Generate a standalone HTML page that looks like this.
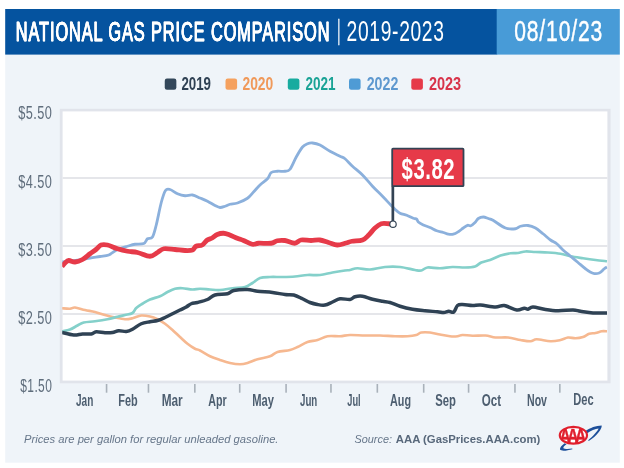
<!DOCTYPE html>
<html lang="en"><head><meta charset="utf-8"><title>National Gas Price Comparison</title>
<style>html,body{margin:0;padding:0;background:#fff;}body{width:624px;height:468px;overflow:hidden;}svg{display:block;}text{font-family:"Liberation Sans",Arial,Helvetica,sans-serif;}</style></head><body>
<svg width="624" height="468" viewBox="0 0 624 468">
<rect x="0" y="0" width="624" height="468" fill="#ffffff"/>
<rect x="5.2" y="9" width="614.6" height="453.7" fill="#eff4f9"/>
<rect x="5.2" y="9" width="492" height="45.6" fill="#05539f"/>
<rect x="496.7" y="9" width="123.1" height="45.6" fill="#489bd7"/>
<text x="15.8" y="41.1" font-size="28" fill="#ffffff" font-weight="normal" font-style="normal" text-anchor="start" textLength="314.6" lengthAdjust="spacingAndGlyphs" stroke="#ffffff" stroke-width="0.4" letter-spacing="1.6" style="text-shadow:0.4px 0 0 #fff,-0.4px 0 0 #fff">NATIONAL GAS PRICE COMPARISON</text>
<text x="337.4" y="39.4" font-size="27" fill="#ffffff" font-weight="normal" font-style="normal" text-anchor="start" textLength="2.6" lengthAdjust="spacingAndGlyphs" stroke="#ffffff" stroke-width="0.6">|</text>
<text x="346.6" y="41.1" font-size="29" fill="#ffffff" font-weight="normal" font-style="normal" text-anchor="start" textLength="98" lengthAdjust="spacingAndGlyphs" letter-spacing="1">2019-2023</text>
<text x="514.2" y="41.1" font-size="29" fill="#ffffff" font-weight="normal" font-style="normal" text-anchor="start" textLength="89" lengthAdjust="spacingAndGlyphs" letter-spacing="1.2" stroke="#ffffff" stroke-width="0.45">08/10/23</text>
<rect x="164.75" y="78.6" width="11.6" height="11.2" rx="2.2" fill="#33475a"/>
<text x="181.45" y="89.6" font-size="18.2" fill="#2f4154" font-weight="bold" font-style="normal" text-anchor="start" textLength="29.55" lengthAdjust="spacingAndGlyphs">2019</text>
<rect x="225.5" y="78.6" width="11.6" height="11.2" rx="2.2" fill="#f5a15f"/>
<text x="242.45" y="89.6" font-size="18.2" fill="#f0995a" font-weight="bold" font-style="normal" text-anchor="start" textLength="30.8" lengthAdjust="spacingAndGlyphs">2020</text>
<rect x="287.8" y="78.6" width="11.6" height="11.2" rx="2.2" fill="#18ab9f"/>
<text x="305.4" y="89.6" font-size="18.2" fill="#1aa396" font-weight="bold" font-style="normal" text-anchor="start" textLength="30.1" lengthAdjust="spacingAndGlyphs">2021</text>
<rect x="349" y="78.6" width="11.6" height="11.2" rx="2.2" fill="#4f9bd5"/>
<text x="366.7" y="89.6" font-size="18.2" fill="#5e98cf" font-weight="bold" font-style="normal" text-anchor="start" textLength="31.6" lengthAdjust="spacingAndGlyphs">2022</text>
<rect x="411.3" y="78.6" width="11.6" height="11.2" rx="2.2" fill="#e63a49"/>
<text x="428.9" y="89.6" font-size="18.2" fill="#d8334a" font-weight="bold" font-style="normal" text-anchor="start" textLength="32.2" lengthAdjust="spacingAndGlyphs">2023</text>
<rect x="59.8" y="108.8" width="550.8" height="274.5" fill="#e1e4eb"/>
<rect x="62.6" y="111.4" width="544.8" height="269.2" fill="#ffffff"/>
<rect x="62.6" y="177.1" width="544.8" height="1.8" fill="#e3e4e8"/>
<rect x="62.6" y="245.1" width="544.8" height="1.8" fill="#e3e4e8"/>
<rect x="62.6" y="313.1" width="544.8" height="1.8" fill="#e3e4e8"/>
<text x="18.3" y="119.3" font-size="19.2" fill="#5f6d7c" font-weight="normal" font-style="normal" text-anchor="start" textLength="33.9" lengthAdjust="spacingAndGlyphs" letter-spacing="0.6">$5.50</text>
<text x="18.3" y="187.5" font-size="19.2" fill="#5f6d7c" font-weight="normal" font-style="normal" text-anchor="start" textLength="33.9" lengthAdjust="spacingAndGlyphs" letter-spacing="0.6">$4.50</text>
<text x="18.3" y="255.7" font-size="19.2" fill="#5f6d7c" font-weight="normal" font-style="normal" text-anchor="start" textLength="33.9" lengthAdjust="spacingAndGlyphs" letter-spacing="0.6">$3.50</text>
<text x="18.3" y="323.9" font-size="19.2" fill="#5f6d7c" font-weight="normal" font-style="normal" text-anchor="start" textLength="33.9" lengthAdjust="spacingAndGlyphs" letter-spacing="0.6">$2.50</text>
<text x="20.3" y="392.1" font-size="19.2" fill="#5f6d7c" font-weight="normal" font-style="normal" text-anchor="start" textLength="31.9" lengthAdjust="spacingAndGlyphs" letter-spacing="0.6">$1.50</text>
<rect x="105.77" y="384" width="1.6" height="8.7" fill="#a9b1ba"/>
<rect x="147.66" y="384" width="1.6" height="8.7" fill="#a9b1ba"/>
<rect x="194.03" y="384" width="1.6" height="8.7" fill="#a9b1ba"/>
<rect x="238.91" y="384" width="1.6" height="8.7" fill="#a9b1ba"/>
<rect x="285.28" y="384" width="1.6" height="8.7" fill="#a9b1ba"/>
<rect x="330.16" y="384" width="1.6" height="8.7" fill="#a9b1ba"/>
<rect x="376.53" y="384" width="1.6" height="8.7" fill="#a9b1ba"/>
<rect x="422.90" y="384" width="1.6" height="8.7" fill="#a9b1ba"/>
<rect x="467.78" y="384" width="1.6" height="8.7" fill="#a9b1ba"/>
<rect x="514.15" y="384" width="1.6" height="8.7" fill="#a9b1ba"/>
<rect x="559.03" y="384" width="1.6" height="8.7" fill="#a9b1ba"/>
<text x="76" y="406.3" font-size="15.6" fill="#4d5e70" font-weight="bold" font-style="normal" text-anchor="start" textLength="17.3" lengthAdjust="spacingAndGlyphs">Jan</text>
<text x="118.3" y="406.3" font-size="15.6" fill="#4d5e70" font-weight="bold" font-style="normal" text-anchor="start" textLength="19.4" lengthAdjust="spacingAndGlyphs">Feb</text>
<text x="161.7" y="406.3" font-size="15.6" fill="#4d5e70" font-weight="bold" font-style="normal" text-anchor="start" textLength="21" lengthAdjust="spacingAndGlyphs">Mar</text>
<text x="208.3" y="406.3" font-size="15.6" fill="#4d5e70" font-weight="bold" font-style="normal" text-anchor="start" textLength="18.4" lengthAdjust="spacingAndGlyphs">Apr</text>
<text x="252.3" y="406.3" font-size="15.6" fill="#4d5e70" font-weight="bold" font-style="normal" text-anchor="start" textLength="21.7" lengthAdjust="spacingAndGlyphs">May</text>
<text x="300" y="406.3" font-size="15.6" fill="#4d5e70" font-weight="bold" font-style="normal" text-anchor="start" textLength="17.3" lengthAdjust="spacingAndGlyphs">Jun</text>
<text x="347.3" y="406.3" font-size="15.6" fill="#4d5e70" font-weight="bold" font-style="normal" text-anchor="start" textLength="13.4" lengthAdjust="spacingAndGlyphs">Jul</text>
<text x="390" y="406.3" font-size="15.6" fill="#4d5e70" font-weight="bold" font-style="normal" text-anchor="start" textLength="21" lengthAdjust="spacingAndGlyphs">Aug</text>
<text x="435.3" y="406.3" font-size="15.6" fill="#4d5e70" font-weight="bold" font-style="normal" text-anchor="start" textLength="20.7" lengthAdjust="spacingAndGlyphs">Sep</text>
<text x="481.7" y="406.3" font-size="15.6" fill="#4d5e70" font-weight="bold" font-style="normal" text-anchor="start" textLength="19.3" lengthAdjust="spacingAndGlyphs">Oct</text>
<text x="527" y="406.3" font-size="15.6" fill="#4d5e70" font-weight="bold" font-style="normal" text-anchor="start" textLength="20" lengthAdjust="spacingAndGlyphs">Nov</text>
<text x="573.3" y="404.8" font-size="15.6" fill="#4d5e70" font-weight="bold" font-style="normal" text-anchor="start" textLength="20.4" lengthAdjust="spacingAndGlyphs">Dec</text>
<clipPath id="pc"><rect x="62.2" y="111.4" width="545.2" height="269.2"/></clipPath><g clip-path="url(#pc)">
<path d="M62.00 308.25C63.33 308.33 67.83 308.88 70.00 308.75C72.17 308.62 72.50 307.29 75.00 307.50C77.50 307.71 81.67 309.25 85.00 310.00C88.33 310.75 91.67 311.17 95.00 312.00C98.33 312.83 101.67 314.08 105.00 315.00C108.33 315.92 111.67 316.79 115.00 317.50C118.33 318.21 122.08 319.12 125.00 319.25C127.92 319.38 129.79 318.88 132.50 318.25C135.21 317.62 138.33 315.79 141.25 315.50C144.17 315.21 147.29 315.88 150.00 316.50C152.71 317.12 155.00 318.04 157.50 319.25C160.00 320.46 162.50 321.96 165.00 323.75C167.50 325.54 170.00 327.79 172.50 330.00C175.00 332.21 177.50 334.71 180.00 337.00C182.50 339.29 185.00 341.79 187.50 343.75C190.00 345.71 192.92 347.62 195.00 348.75C197.08 349.88 197.50 349.25 200.00 350.50C202.50 351.75 206.67 354.67 210.00 356.25C213.33 357.83 216.67 358.88 220.00 360.00C223.33 361.12 226.67 362.29 230.00 363.00C233.33 363.71 237.08 364.25 240.00 364.25C242.92 364.25 244.58 363.83 247.50 363.00C250.42 362.17 253.75 360.38 257.50 359.25C261.25 358.12 266.67 357.46 270.00 356.25C273.33 355.04 274.17 353.04 277.50 352.00C280.83 350.96 286.67 350.83 290.00 350.00C293.33 349.17 294.58 348.33 297.50 347.00C300.42 345.67 304.17 343.17 307.50 342.00C310.83 340.83 314.17 340.96 317.50 340.00C320.83 339.04 323.75 336.88 327.50 336.25C331.25 335.62 336.25 336.46 340.00 336.25C343.75 336.04 345.83 335.12 350.00 335.00C354.17 334.88 360.00 335.42 365.00 335.50C370.00 335.58 375.00 335.38 380.00 335.50C385.00 335.62 390.42 336.12 395.00 336.25C399.58 336.38 403.96 336.46 407.50 336.25C411.04 336.04 413.96 335.62 416.25 335.00C418.54 334.38 418.96 332.92 421.25 332.50C423.54 332.08 426.88 332.17 430.00 332.50C433.12 332.83 436.67 333.88 440.00 334.50C443.33 335.12 447.08 335.96 450.00 336.25C452.92 336.54 455.42 336.46 457.50 336.25C459.58 336.04 460.00 335.08 462.50 335.00C465.00 334.92 468.67 335.67 472.50 335.75C476.33 335.83 481.67 335.21 485.50 335.50C489.33 335.79 491.75 337.17 495.50 337.50C499.25 337.83 503.83 337.08 508.00 337.50C512.17 337.92 516.75 339.38 520.50 340.00C524.25 340.62 527.79 341.38 530.50 341.25C533.21 341.12 533.42 339.25 536.75 339.25C540.08 339.25 546.54 341.12 550.50 341.25C554.46 341.38 557.58 340.62 560.50 340.00C563.42 339.38 565.50 337.79 568.00 337.50C570.50 337.21 573.00 338.33 575.50 338.25C578.00 338.17 580.71 337.75 583.00 337.00C585.29 336.25 587.17 334.42 589.25 333.75C591.33 333.08 593.42 333.42 595.50 333.00C597.58 332.58 599.83 331.54 601.75 331.25C603.67 330.96 606.12 331.25 607.00 331.25" fill="none" stroke="#f6b890" stroke-width="2.6" stroke-linejoin="round" stroke-linecap="butt"/>
<path d="M62.00 331.50C63.33 331.17 67.42 330.50 70.00 329.50C72.58 328.50 75.21 326.67 77.50 325.50C79.79 324.33 80.83 323.21 83.75 322.50C86.67 321.79 91.04 321.79 95.00 321.25C98.96 320.71 103.75 320.00 107.50 319.25C111.25 318.50 114.58 317.46 117.50 316.75C120.42 316.04 122.50 315.62 125.00 315.00C127.50 314.38 130.62 314.17 132.50 313.00C134.38 311.83 134.58 309.54 136.25 308.00C137.92 306.46 140.21 305.17 142.50 303.75C144.79 302.33 147.08 300.75 150.00 299.50C152.92 298.25 157.08 297.50 160.00 296.25C162.92 295.00 165.00 293.25 167.50 292.00C170.00 290.75 172.50 289.38 175.00 288.75C177.50 288.12 179.58 288.12 182.50 288.25C185.42 288.38 189.58 289.42 192.50 289.50C195.42 289.58 197.08 288.75 200.00 288.75C202.92 288.75 206.67 289.29 210.00 289.50C213.33 289.71 216.25 290.21 220.00 290.00C223.75 289.79 228.33 288.75 232.50 288.25C236.67 287.75 241.67 287.88 245.00 287.00C248.33 286.12 250.00 284.50 252.50 283.00C255.00 281.50 257.08 279.00 260.00 278.00C262.92 277.00 266.25 277.17 270.00 277.00C273.75 276.83 278.33 277.08 282.50 277.00C286.67 276.92 290.83 276.83 295.00 276.50C299.17 276.17 303.33 275.25 307.50 275.00C311.67 274.75 315.83 275.42 320.00 275.00C324.17 274.58 328.33 273.25 332.50 272.50C336.67 271.75 342.08 270.92 345.00 270.50C347.92 270.08 347.92 270.38 350.00 270.00C352.08 269.62 354.17 268.33 357.50 268.25C360.83 268.17 365.42 269.71 370.00 269.50C374.58 269.29 380.00 267.42 385.00 267.00C390.00 266.58 395.00 266.50 400.00 267.00C405.00 267.50 411.46 269.42 415.00 270.00C418.54 270.58 419.17 270.92 421.25 270.50C423.33 270.08 424.38 267.88 427.50 267.50C430.62 267.12 435.83 268.33 440.00 268.25C444.17 268.17 448.33 267.12 452.50 267.00C456.67 266.88 461.25 267.58 465.00 267.50C468.75 267.42 472.29 267.33 475.00 266.50C477.71 265.67 478.75 263.58 481.25 262.50C483.75 261.42 486.79 261.17 490.00 260.00C493.21 258.83 497.08 256.62 500.50 255.50C503.92 254.38 507.58 253.67 510.50 253.25C513.42 252.83 515.50 253.29 518.00 253.00C520.50 252.71 522.58 251.67 525.50 251.50C528.42 251.33 531.75 251.83 535.50 252.00C539.25 252.17 543.83 252.21 548.00 252.50C552.17 252.79 556.75 253.12 560.50 253.75C564.25 254.38 566.75 255.50 570.50 256.25C574.25 257.00 578.83 257.62 583.00 258.25C587.17 258.88 591.50 259.50 595.50 260.00C599.50 260.50 605.08 261.04 607.00 261.25" fill="none" stroke="#84d0ca" stroke-width="2.7" stroke-linejoin="round" stroke-linecap="butt"/>
<path d="M62.00 262.00C63.33 261.83 67.00 261.33 70.00 261.00C73.00 260.67 76.67 260.50 80.00 260.00C83.33 259.50 86.67 258.58 90.00 258.00C93.33 257.42 96.88 257.00 100.00 256.50C103.12 256.00 105.83 256.17 108.75 255.00C111.67 253.83 114.38 250.96 117.50 249.50C120.62 248.04 124.58 247.12 127.50 246.25C130.42 245.38 132.29 244.71 135.00 244.25C137.71 243.79 141.67 244.42 143.75 243.50C145.83 242.58 146.04 239.83 147.50 238.75C148.96 237.67 151.04 239.29 152.50 237.00C153.96 234.71 154.79 230.75 156.25 225.00C157.71 219.25 159.71 208.25 161.25 202.50C162.79 196.75 164.04 192.67 165.50 190.50C166.96 188.33 168.00 188.96 170.00 189.50C172.00 190.04 175.00 192.71 177.50 193.75C180.00 194.79 182.50 195.54 185.00 195.75C187.50 195.96 190.00 194.62 192.50 195.00C195.00 195.38 197.50 196.96 200.00 198.00C202.50 199.04 205.00 200.00 207.50 201.25C210.00 202.50 212.92 204.46 215.00 205.50C217.08 206.54 218.33 207.38 220.00 207.50C221.67 207.62 223.33 206.79 225.00 206.25C226.67 205.71 227.92 204.79 230.00 204.25C232.08 203.71 234.58 204.00 237.50 203.00C240.42 202.00 244.79 200.12 247.50 198.25C250.21 196.38 251.67 193.96 253.75 191.75C255.83 189.54 257.71 187.17 260.00 185.00C262.29 182.83 265.62 180.83 267.50 178.75C269.38 176.67 269.58 173.75 271.25 172.50C272.92 171.25 275.21 171.46 277.50 171.25C279.79 171.04 282.92 171.58 285.00 171.25C287.08 170.92 288.12 171.62 290.00 169.25C291.88 166.88 294.17 160.71 296.25 157.00C298.33 153.29 300.62 149.21 302.50 147.00C304.38 144.79 305.83 144.42 307.50 143.75C309.17 143.08 310.42 142.79 312.50 143.00C314.58 143.21 317.08 143.62 320.00 145.00C322.92 146.38 326.67 149.38 330.00 151.25C333.33 153.12 337.50 155.00 340.00 156.25C342.50 157.50 342.92 157.08 345.00 158.75C347.08 160.42 349.58 163.54 352.50 166.25C355.42 168.96 359.17 171.67 362.50 175.00C365.83 178.33 369.17 182.71 372.50 186.25C375.83 189.79 379.38 193.04 382.50 196.25C385.62 199.46 389.17 203.34 391.25 205.50C393.33 207.66 393.54 207.90 395.00 209.20C396.46 210.50 398.05 212.28 400.00 213.30C401.95 214.32 404.48 214.47 406.70 215.30C408.92 216.13 411.63 217.65 413.30 218.30C414.97 218.95 415.87 218.58 416.70 219.20C417.53 219.82 417.20 221.03 418.30 222.00C419.40 222.97 421.35 224.08 423.30 225.00C425.25 225.92 427.77 226.53 430.00 227.50C432.23 228.47 434.48 229.97 436.70 230.80C438.92 231.63 441.37 231.93 443.30 232.50C445.23 233.07 446.63 233.92 448.30 234.20C449.97 234.48 451.63 234.62 453.30 234.20C454.97 233.78 456.63 232.73 458.30 231.70C459.97 230.67 461.77 229.07 463.30 228.00C464.83 226.93 466.25 225.67 467.50 225.30C468.75 224.93 469.55 226.27 470.80 225.80C472.05 225.33 473.75 223.72 475.00 222.50C476.25 221.28 476.92 219.42 478.30 218.50C479.68 217.58 481.63 217.00 483.30 217.00C484.97 217.00 486.68 217.95 488.30 218.50C489.92 219.05 490.13 218.72 493.00 220.30C495.87 221.88 501.75 226.59 505.50 228.00C509.25 229.41 513.00 229.04 515.50 228.75C518.00 228.46 518.42 226.79 520.50 226.25C522.58 225.71 525.50 225.21 528.00 225.50C530.50 225.79 533.00 226.62 535.50 228.00C538.00 229.38 540.50 231.75 543.00 233.75C545.50 235.75 548.21 238.33 550.50 240.00C552.79 241.67 554.67 242.08 556.75 243.75C558.83 245.42 560.71 247.92 563.00 250.00C565.29 252.08 568.00 254.17 570.50 256.25C573.00 258.33 575.50 260.42 578.00 262.50C580.50 264.58 583.00 266.96 585.50 268.75C588.00 270.54 590.71 272.54 593.00 273.25C595.29 273.96 597.38 273.75 599.25 273.00C601.12 272.25 602.96 269.75 604.25 268.75C605.54 267.75 606.54 267.29 607.00 267.00" fill="none" stroke="#8bb0dc" stroke-width="2.8" stroke-linejoin="round" stroke-linecap="butt"/>
<path d="M62.00 332.50C63.96 332.92 70.33 334.75 73.75 335.00C77.17 335.25 79.58 334.17 82.50 334.00C85.42 333.83 88.96 334.38 91.25 334.00C93.54 333.62 93.96 331.96 96.25 331.75C98.54 331.54 102.29 332.62 105.00 332.75C107.71 332.88 110.21 332.83 112.50 332.50C114.79 332.17 116.46 330.92 118.75 330.75C121.04 330.58 123.96 331.75 126.25 331.50C128.54 331.25 130.00 330.54 132.50 329.25C135.00 327.96 138.33 325.00 141.25 323.75C144.17 322.50 147.29 322.29 150.00 321.75C152.71 321.21 155.00 321.21 157.50 320.50C160.00 319.79 162.50 318.62 165.00 317.50C167.50 316.38 170.00 315.00 172.50 313.75C175.00 312.50 177.71 311.12 180.00 310.00C182.29 308.88 184.38 308.04 186.25 307.00C188.12 305.96 189.38 304.50 191.25 303.75C193.12 303.00 194.79 303.21 197.50 302.50C200.21 301.79 204.58 300.75 207.50 299.50C210.42 298.25 211.67 295.96 215.00 295.00C218.33 294.04 224.38 294.50 227.50 293.75C230.62 293.00 230.42 291.21 233.75 290.50C237.08 289.79 243.54 289.38 247.50 289.50C251.46 289.62 253.33 290.75 257.50 291.25C261.67 291.75 267.92 291.96 272.50 292.50C277.08 293.04 281.46 294.08 285.00 294.50C288.54 294.92 290.83 294.29 293.75 295.00C296.67 295.71 299.79 297.50 302.50 298.75C305.21 300.00 307.50 301.54 310.00 302.50C312.50 303.46 315.00 304.08 317.50 304.50C320.00 304.92 322.50 305.42 325.00 305.00C327.50 304.58 330.00 303.04 332.50 302.00C335.00 300.96 337.08 299.17 340.00 298.75C342.92 298.33 347.50 299.83 350.00 299.50C352.50 299.17 352.92 297.29 355.00 296.75C357.08 296.21 359.58 295.83 362.50 296.25C365.42 296.67 369.17 298.42 372.50 299.25C375.83 300.08 379.58 300.71 382.50 301.25C385.42 301.79 387.08 301.67 390.00 302.50C392.92 303.33 396.25 305.12 400.00 306.25C403.75 307.38 408.33 308.50 412.50 309.25C416.67 310.00 420.83 310.33 425.00 310.75C429.17 311.17 434.38 311.46 437.50 311.75C440.62 312.04 441.88 312.58 443.75 312.50C445.62 312.42 447.08 311.33 448.75 311.25C450.42 311.17 452.29 312.96 453.75 312.00C455.21 311.04 456.04 306.75 457.50 305.50C458.96 304.25 460.00 304.50 462.50 304.50C465.00 304.50 469.50 305.42 472.50 305.50C475.50 305.58 476.67 304.75 480.50 305.00C484.33 305.25 491.54 306.92 495.50 307.00C499.46 307.08 500.71 305.00 504.25 305.50C507.79 306.00 513.42 309.54 516.75 310.00C520.08 310.46 522.38 308.38 524.25 308.25C526.12 308.12 526.54 309.46 528.00 309.25C529.46 309.04 530.08 306.96 533.00 307.00C535.92 307.04 541.33 308.88 545.50 309.50C549.67 310.12 553.42 310.67 558.00 310.75C562.58 310.83 569.25 309.92 573.00 310.00C576.75 310.08 577.17 310.75 580.50 311.25C583.83 311.75 588.58 312.71 593.00 313.00C597.42 313.29 604.67 313.00 607.00 313.00" fill="none" stroke="#2f4254" stroke-width="3.5" stroke-linejoin="round" stroke-linecap="butt"/>
<path d="M62.00 266.50C62.50 265.92 63.88 264.00 65.00 263.00C66.12 262.00 67.08 260.67 68.75 260.50C70.42 260.33 72.71 262.17 75.00 262.00C77.29 261.83 80.00 260.88 82.50 259.50C85.00 258.12 87.75 255.42 90.00 253.75C92.25 252.08 94.17 250.96 96.00 249.50C97.83 248.04 99.08 245.75 101.00 245.00C102.92 244.25 104.75 244.38 107.50 245.00C110.25 245.62 114.17 247.71 117.50 248.75C120.83 249.79 124.17 250.62 127.50 251.25C130.83 251.88 133.75 251.67 137.50 252.50C141.25 253.33 146.67 256.25 150.00 256.25C153.33 256.25 155.21 253.75 157.50 252.50C159.79 251.25 160.83 249.25 163.75 248.75C166.67 248.25 171.46 249.21 175.00 249.50C178.54 249.79 182.08 250.42 185.00 250.50C187.92 250.58 190.67 250.71 192.50 250.00C194.33 249.29 194.38 247.08 196.00 246.25C197.62 245.42 200.38 246.04 202.25 245.00C204.12 243.96 205.58 241.17 207.25 240.00C208.92 238.83 210.58 238.92 212.25 238.00C213.92 237.08 215.38 235.29 217.25 234.50C219.12 233.71 221.42 233.17 223.50 233.25C225.58 233.33 227.46 234.17 229.75 235.00C232.04 235.83 234.96 237.33 237.25 238.25C239.54 239.17 241.00 239.50 243.50 240.50C246.00 241.50 249.75 243.79 252.25 244.25C254.75 244.71 255.38 243.42 258.50 243.25C261.62 243.08 267.88 243.67 271.00 243.25C274.12 242.83 274.96 241.21 277.25 240.75C279.54 240.29 281.83 240.08 284.75 240.50C287.67 240.92 292.04 243.33 294.75 243.25C297.46 243.17 298.29 240.46 301.00 240.00C303.71 239.54 307.88 240.50 311.00 240.50C314.12 240.50 316.83 239.67 319.75 240.00C322.67 240.33 325.58 241.67 328.50 242.50C331.42 243.33 334.33 244.92 337.25 245.00C340.17 245.08 343.54 243.62 346.00 243.00C348.46 242.38 349.25 241.75 352.00 241.25C354.75 240.75 359.71 241.04 362.50 240.00C365.29 238.96 366.67 237.00 368.75 235.00C370.83 233.00 372.92 229.88 375.00 228.00C377.08 226.12 378.96 224.46 381.25 223.75C383.54 223.04 386.79 223.67 388.75 223.75C390.71 223.83 392.29 224.17 393.00 224.25" fill="none" stroke="#e63a49" stroke-width="4.8" stroke-linejoin="round" stroke-linecap="butt"/>
</g>
<rect x="391.5" y="186" width="2.7" height="36" fill="#334354"/>
<rect x="392.2" y="148.6" width="71.3" height="37.6" rx="0.8" fill="#e63a49" stroke="#334354" stroke-width="1.8"/>
<text x="401.6" y="178.5" font-size="29.4" fill="#ffffff" font-weight="bold" font-style="normal" text-anchor="start" textLength="53.6" lengthAdjust="spacingAndGlyphs" letter-spacing="0.8">$3.82</text>
<circle cx="393" cy="224.2" r="3.2" fill="#ffffff" stroke="#334354" stroke-width="1.2"/>
<text x="24" y="443.3" font-size="11.1" fill="#66768a" font-weight="normal" font-style="italic" text-anchor="start" textLength="254.5" lengthAdjust="spacingAndGlyphs">Prices are per gallon for regular unleaded gasoline.</text>
<text x="354.5" y="443.3" font-size="11.1" fill="#66768a" font-weight="normal" font-style="italic" text-anchor="start" textLength="37.5" lengthAdjust="spacingAndGlyphs">Source:</text>
<text x="395.75" y="443.3" font-size="11.1" fill="#58687b" font-weight="bold" font-style="normal" text-anchor="start" textLength="144.5" lengthAdjust="spacingAndGlyphs">AAA (GasPrices.AAA.com)</text>
<g id="logo">
<path d="M585.8 430.7 C590 428 596 425.6 601.7 425.5 C602.1 428.8 597 435.8 588.7 441.1 L588.2 440.3 C593.4 435.8 597.8 430.8 598.6 428.5 C595.4 428.6 590.6 430.8 587.2 433.2 Z" fill="#1d4f9a"/>
<path d="M564.6 443.2 C561.6 445.4 559.6 447.8 560 449.6 C561.2 451.4 567 450.8 572.4 449.2 L572.2 448.6 C568.4 449.2 564.4 449.2 563.4 448.2 C563 447 564.6 445.4 566.6 444.2 Z" fill="#1d4f9a"/>
<ellipse cx="573.4" cy="435.3" rx="13.6" ry="8.4" fill="#ffffff" stroke="#e01f2d" stroke-width="2.2"/>
<clipPath id="lc"><ellipse cx="573.4" cy="435.3" rx="13.6" ry="8.4"/></clipPath>
<text x="559.6" y="443.3" font-size="19.5" fill="#e01f2d" font-weight="bold" font-style="normal" text-anchor="start" textLength="23" lengthAdjust="spacingAndGlyphs" letter-spacing="-4.5" stroke="#e01f2d" stroke-width="0.5" clip-path="url(#lc)">AAA</text>
</g>
</svg></body></html>
